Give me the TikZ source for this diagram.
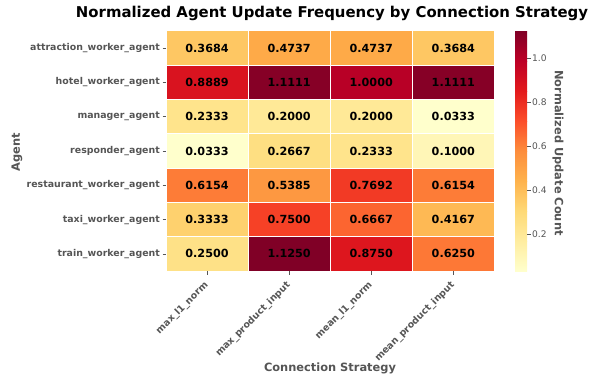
\documentclass[tikz,border=0pt]{standalone}
\usepackage{fontspec}
\setmainfont{DejaVu Sans}
\usetikzlibrary{positioning}

% YlOrRd anchors
\definecolor{ylor0}{HTML}{FFFFCC}
\definecolor{ylor1}{HTML}{FFEDA0}
\definecolor{ylor2}{HTML}{FED976}
\definecolor{ylor3}{HTML}{FEB24C}
\definecolor{ylor4}{HTML}{FD8D3C}
\definecolor{ylor5}{HTML}{FC4E2A}
\definecolor{ylor6}{HTML}{E31A1C}
\definecolor{ylor7}{HTML}{BD0026}
\definecolor{ylor8}{HTML}{800026}
\definecolor{axisgrey}{HTML}{555555}

\begin{document}
\begin{tikzpicture}[
  x=1pt, y=-1pt,
  cell/.style={draw=white, line width=1pt, minimum width=82.1pt, minimum height=34.3pt, inner sep=0pt, font=\bfseries\fontsize{11.2}{13}\selectfont},
  ticklabel/.style={text=axisgrey, font=\bfseries\fontsize{9.4}{11}\selectfont, inner sep=1pt},
  cbticklabel/.style={text=axisgrey, font=\fontsize{9.1}{11}\selectfont, inner sep=1pt},
  axislabel/.style={text=axisgrey, font=\bfseries\fontsize{11.4}{13}\selectfont},
  tickmark/.style={draw=axisgrey, line width=0.6pt}
]
\useasboundingbox (0,0) rectangle (594,378);

\node[font=\bfseries\fontsize{14.9}{17}\selectfont] (title) at (332,13) {Normalized Agent Update Frequency by Connection Strategy};

% heatmap cells
\foreach \vals [count=\r] in {{0.3684,0.4737,0.4737,0.3684},{0.8889,1.1111,1.0000,1.1111},{0.2333,0.2000,0.2000,0.0333},{0.0333,0.2667,0.2333,0.1000},{0.6154,0.5385,0.7692,0.6154},{0.3333,0.7500,0.6667,0.4167},{0.2500,1.1250,0.8750,0.6250}}{
  \foreach \v [count=\c] in \vals {
    \pgfmathsetmacro\pos{(\v-0.0333)/1.0917*8}
    \pgfmathtruncatemacro\lo{min(floor(\pos),7)}
    \pgfmathtruncatemacro\hi{\lo+1}
    \pgfmathsetmacro\mixp{max(0,min(100,(\pos-\lo)*100))}
    \colorlet{cellfill}{ylor\hi!\mixp!ylor\lo}
    \node[cell, fill=cellfill] (cell-\r-\c) at ({166+(\c-0.5)*82.1}, {31+(\r-0.5)*34.29}) {\v};
  }
}

% agent labels
\foreach \name [count=\r] in {attraction\_worker\_agent, hotel\_worker\_agent, manager\_agent, responder\_agent, restaurant\_worker\_agent, taxi\_worker\_agent, train\_worker\_agent}{
  \node[ticklabel, anchor=east] (agent-\r) at (161, {31+(\r-0.5)*34.29}) {\name};
  \draw[tickmark] (162.5, {31+(\r-0.5)*34.29}) -- (166, {31+(\r-0.5)*34.29});
}

% strategy labels
\foreach \name [count=\c] in {max\_l1\_norm, max\_product\_input, mean\_l1\_norm, mean\_product\_input}{
  \draw[tickmark] ({166+(\c-0.5)*82.1}, 271) -- ({166+(\c-0.5)*82.1}, 274.5);
  \node[ticklabel, anchor=east, rotate=45] (strategy-\c) at ({166+(\c-0.5)*82.1+0.5}, 283) {\name};
}

\node[axislabel, rotate=90] (ylabel) at (17,152) {Agent};
\node[axislabel] (xlabel) at (330,368) {Connection Strategy};

% colorbar
\foreach \i [evaluate=\i as \j using int(\i+1)] in {0,...,7}
  \shade[bottom color=ylor\i, top color=ylor\j] (515, {271-\i*30}) rectangle (527, {271-\j*30});
\foreach \t [count=\k] in {0.2,0.4,0.6,0.8,1.0}{
  \draw[tickmark] (527, {271-(\t-0.0333)/1.0917*240}) -- (530.5, {271-(\t-0.0333)/1.0917*240});
  \node[cbticklabel, anchor=west] (cbtick-\k) at (531, {271-(\t-0.0333)/1.0917*240}) {\t};
}
\node[axislabel, rotate=-90] (cblabel) at (558,153) {Normalized Update Count};
\end{tikzpicture}
\end{document}
